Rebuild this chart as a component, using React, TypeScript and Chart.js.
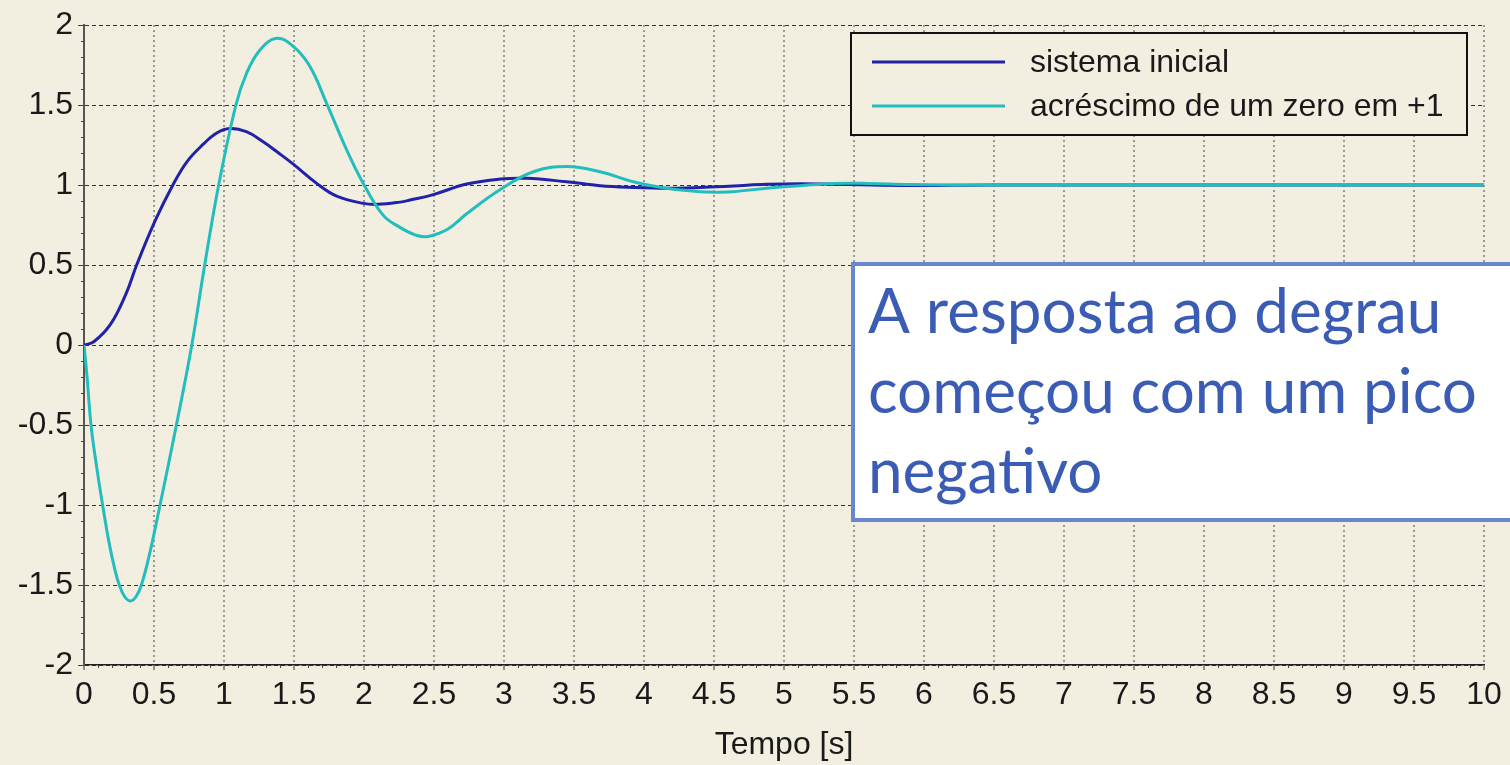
import React, { useEffect, useRef } from 'react';
import { Chart, registerables } from 'chart.js';

Chart.register(...registerables);

// ---- data ----
const seriesLabels = ['sistema inicial', 'acréscimo de um zero em +1'];

const blueT = [0, 0.07, 0.19, 0.3, 0.376, 0.51, 0.635, 0.735, 0.852, 0.948, 1.04, 1.16, 1.28, 1.39, 1.495, 1.662, 1.805, 1.995, 2.1, 2.257, 2.33, 2.495, 2.733, 2.971, 3.16, 3.448, 3.686, 3.924, 4.162, 4.4, 4.638, 4.876, 5.114, 5.47, 5.9, 6.5, 7, 8, 9, 10];
const blueY = [0, 0.02, 0.13, 0.32, 0.5, 0.78, 1.0, 1.145, 1.255, 1.325, 1.353, 1.333, 1.27, 1.2, 1.13, 1.01, 0.93, 0.885, 0.879, 0.893, 0.906, 0.94, 1.006, 1.037, 1.042, 1.02, 0.996, 0.985, 0.98, 0.985, 0.994, 1.004, 1.008, 1.003, 0.997, 1.0, 1.0, 1.0, 1.0, 1.0];

const cyanT = [0, 0.02, 0.05, 0.09, 0.133, 0.18, 0.221, 0.252, 0.29, 0.33, 0.37, 0.41, 0.47, 0.543, 0.66, 0.77, 0.862, 0.962, 1.085, 1.162, 1.257, 1.376, 1.495, 1.614, 1.733, 1.876, 1.995, 2.138, 2.257, 2.36, 2.45, 2.6, 2.733, 2.971, 3.21, 3.448, 3.686, 3.924, 4.162, 4.4, 4.52, 4.638, 4.876, 5.114, 5.35, 5.6, 5.9, 6.5, 7, 8, 9, 10];
const cyanY = [0, -0.18, -0.5, -0.76, -1.0, -1.24, -1.406, -1.5, -1.572, -1.6, -1.575, -1.5, -1.3, -1.0, -0.5, 0, 0.5, 1.0, 1.5, 1.7, 1.844, 1.917, 1.866, 1.74, 1.51, 1.22, 1.01, 0.81, 0.735, 0.69, 0.677, 0.725, 0.82, 0.97, 1.083, 1.115, 1.083, 1.02, 0.98, 0.958, 0.955, 0.958, 0.98, 0.996, 1.01, 1.01, 1.003, 1.0, 1.0, 1.0, 1.0, 1.0];

const xTicks = [0, 0.5, 1, 1.5, 2, 2.5, 3, 3.5, 4, 4.5, 5, 5.5, 6, 6.5, 7, 7.5, 8, 8.5, 9, 9.5, 10];
const yTicks = [-2, -1.5, -1, -0.5, 0, 0.5, 1, 1.5, 2];
const xTitle = 'Tempo [s]';
const noteLines = ['A resposta ao degrau', 'começou com um pico', 'negativo'];

// ---- styles ----
const BG = '#F3EFE0';
const BLUE = '#2222a8';
const CYAN = '#22bdbd';
const AXIS_FONT = '"Liberation Sans", Arial, sans-serif';

const bgPlugin = {
  id: 'bg',
  beforeDraw(chart: any) {
    const { ctx, width, height } = chart;
    ctx.save();
    ctx.fillStyle = BG;
    ctx.fillRect(0, 0, width, height);
    ctx.restore();
  },
};

const minorTicksPlugin = {
  id: 'minorTicks',
  afterDraw(chart: any) {
    const { ctx } = chart;
    const xs = chart.scales.x;
    const ys = chart.scales.y;
    ctx.save();
    ctx.strokeStyle = '#444';
    ctx.lineWidth = 1;
    ctx.beginPath();
    for (let i = 0; i < xTicks.length - 1; i++) {
      for (let k = 1; k < 5; k++) {
        const v = xTicks[i] + ((xTicks[i + 1] - xTicks[i]) * k) / 5;
        const px = Math.round(xs.getPixelForValue(v)) + 0.5;
        ctx.moveTo(px, xs.top);
        ctx.lineTo(px, xs.top + 3);
      }
    }
    for (let i = 0; i < yTicks.length - 1; i++) {
      for (let k = 1; k < 5; k++) {
        const v = yTicks[i] + ((yTicks[i + 1] - yTicks[i]) * k) / 5;
        const py = Math.round(ys.getPixelForValue(v)) + 0.5;
        ctx.moveTo(ys.right, py);
        ctx.lineTo(ys.right - 3, py);
      }
    }
    ctx.stroke();
    ctx.restore();
  },
};

const legendBoxPlugin = {
  id: 'legendBox',
  afterDraw(chart: any) {
    const { ctx } = chart;
    const ds = chart.data.datasets;
    ctx.save();
    ctx.fillStyle = BG;
    ctx.fillRect(851, 33, 616, 102);
    ctx.strokeStyle = '#111';
    ctx.lineWidth = 2;
    ctx.strokeRect(851, 33, 616, 102);
    const rows = [62, 106];
    ds.forEach((d: any, i: number) => {
      ctx.strokeStyle = d.borderColor;
      ctx.lineWidth = 3;
      ctx.beginPath();
      ctx.moveTo(872, rows[i]);
      ctx.lineTo(1005, rows[i]);
      ctx.stroke();
      ctx.fillStyle = '#1a1a1a';
      ctx.font = `32px ${AXIS_FONT}`;
      ctx.textBaseline = 'middle';
      ctx.textAlign = 'left';
      ctx.fillText(d.label, 1030, rows[i] + 1);
    });
    ctx.restore();
  },
};

const notePlugin = {
  id: 'note',
  afterDraw(chart: any) {
    const { ctx } = chart;
    ctx.save();
    ctx.fillStyle = '#ffffff';
    ctx.fillRect(853, 264, 700, 256);
    ctx.strokeStyle = '#6787cf';
    ctx.lineWidth = 4;
    ctx.strokeRect(853, 264, 700, 256);
    ctx.fillStyle = '#3a5cb5';
    ctx.font = '62px Lato, "Open Sans", sans-serif';
    ctx.textBaseline = 'alphabetic';
    ctx.textAlign = 'left';
    const baselines = [333, 413, 493];
    noteLines.forEach((t, i) => ctx.fillText(t, 868, baselines[i]));
    ctx.restore();
  },
};

export default function App() {
  const ref = useRef<HTMLCanvasElement | null>(null);

  useEffect(() => {
    if (!ref.current) return;
    const chart = new Chart(ref.current, {
      type: 'line',
      data: {
        datasets: [
          {
            label: seriesLabels[0],
            data: blueT.map((t, i) => ({ x: t, y: blueY[i] })),
            borderColor: BLUE,
            borderWidth: 3,
            pointRadius: 0,
            tension: 0.4,
            fill: false,
            order: 1,
          },
          {
            label: seriesLabels[1],
            data: cyanT.map((t, i) => ({ x: t, y: cyanY[i] })),
            borderColor: CYAN,
            borderWidth: 3,
            pointRadius: 0,
            tension: 0.4,
            fill: false,
            order: 0,
          },
        ],
      },
      options: {
        responsive: false,
        animation: false,
        devicePixelRatio: 1,
        layout: { padding: { top: 25, right: 26, left: 0, bottom: 0 } },
        plugins: {
          legend: { display: false },
          tooltip: { enabled: false },
          title: { display: false },
        },
        scales: {
          x: {
            type: 'linear',
            min: 0,
            max: 10,
            afterBuildTicks: (s: any) => {
              s.ticks = xTicks.map((v) => ({ value: v }));
            },
            afterFit: (s: any) => {
              s.height = 100;
            },
            ticks: {
              autoSkip: false,
              maxRotation: 0,
              padding: 6,
              color: '#1a1a1a',
              font: { family: AXIS_FONT, size: 32 },
              callback: (v: any) => String(v),
            },
            grid: {
              color: '#999999',
              lineWidth: 2,
              drawTicks: true,
              tickLength: 5,
              tickColor: '#333',
              tickWidth: 1,
            },
            border: { display: true, color: '#222', width: 1.5, dash: [2, 3] },
            title: {
              display: true,
              text: xTitle,
              color: '#1a1a1a',
              font: { family: AXIS_FONT, size: 32, lineHeight: 1 },
              padding: { top: 0, bottom: 4 },
            },
          },
          y: {
            type: 'linear',
            min: -2,
            max: 2,
            afterBuildTicks: (s: any) => {
              s.ticks = yTicks.map((v) => ({ value: v }));
            },
            afterFit: (s: any) => {
              s.width = 84;
            },
            ticks: {
              padding: 5,
              color: '#1a1a1a',
              font: { family: AXIS_FONT, size: 32 },
              callback: (v: any) => String(v),
            },
            grid: {
              color: '#333',
              lineWidth: 1,
              drawTicks: true,
              tickLength: 6,
              tickColor: '#444',
            },
            border: { display: true, color: '#555', width: 2, dash: [4, 3] },
          },
        },
      },
      plugins: [bgPlugin, minorTicksPlugin, legendBoxPlugin, notePlugin],
    } as any);

    let alive = true;
    if ((document as any).fonts && (document as any).fonts.load) {
      Promise.all([
        (document as any).fonts.load('62px Lato'),
        (document as any).fonts.load('32px "Liberation Sans"'),
      ]).then(() => {
        if (alive) chart.update();
      }).catch(() => {});
    }

    return () => {
      alive = false;
      chart.destroy();
    };
  }, []);

  return (
    <div style={{ position: 'fixed', left: 0, top: 0, width: 1510, height: 765, background: BG }}>
      <canvas ref={ref} width={1510} height={765} style={{ display: 'block', width: 1510, height: 765 }} />
    </div>
  );
}
